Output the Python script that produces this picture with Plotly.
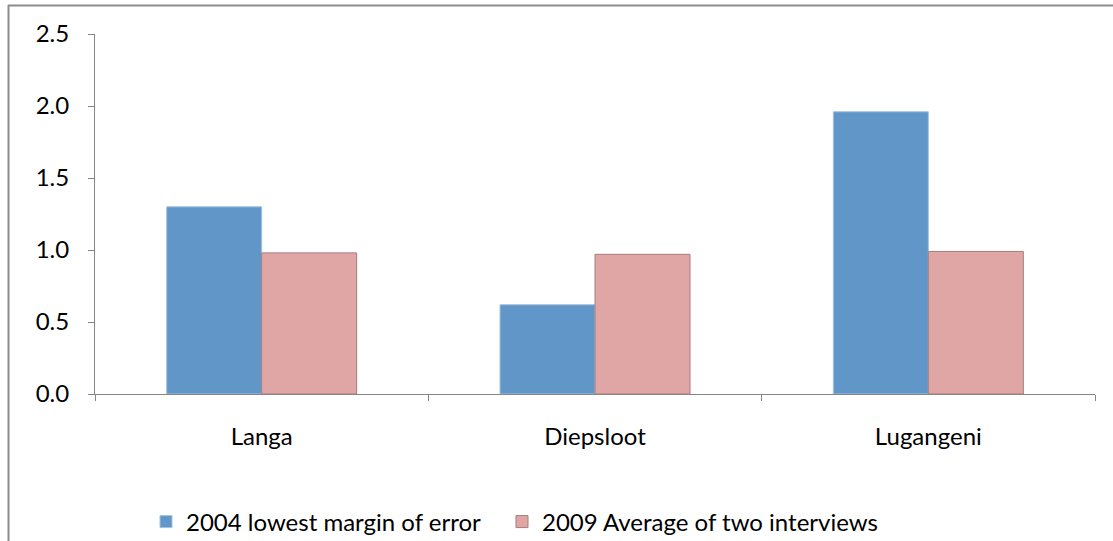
import plotly.graph_objects as go

# Survey sites and the two measurement series
sites = ["Langa", "Diepsloot", "Lugangeni"]
series_2004 = [1.30, 0.62, 1.96]
series_2009 = [0.98, 0.97, 0.99]
name_2004 = "2004 lowest margin of error"
name_2009 = "2009 Average of two interviews"
y_ticks = [0.0, 0.5, 1.0, 1.5, 2.0, 2.5]

W, H = 1113, 541
L, R, T, B = 95, 18, 34, 147
pw, ph = W - L - R, H - T - B

def px_x(p):
    return (p - L) / pw

def px_y(p):
    return (H - B - p) / ph

fig = go.Figure()
fig.add_trace(go.Bar(
    x=sites, y=series_2004, name=name_2004, legend="legend",
    marker=dict(color="#6096C8", line=dict(color="#A4C1E0", width=1)),
))
fig.add_trace(go.Bar(
    x=sites, y=series_2009, name=name_2009, legend="legend2",
    marker=dict(color="#E0A6A5", line=dict(color="#A67C7B", width=1)),
))

axis_grey = "#868686"
text_font = dict(family="Lato, Open Sans, sans-serif", size=24, color="#000000")

def legend_at(px_left):
    return dict(
        orientation="h", x=px_x(px_left), xanchor="left",
        yref="container", y=1 - 522 / H, yanchor="middle",
        font=text_font, itemwidth=30, bgcolor="rgba(0,0,0,0)",
    )

fig.update_layout(
    width=W, height=H,
    margin=dict(l=L, r=R, t=T, b=B, pad=0, autoexpand=False),
    paper_bgcolor="white", plot_bgcolor="white",
    barmode="group", bargap=0.43, bargroupgap=0,
    font=text_font,
    showlegend=True,
    legend=legend_at(146),
    legend2=legend_at(502),
    xaxis=dict(
        showline=True, linecolor=axis_grey, linewidth=1,
        ticks="outside", tickson="boundaries", ticklen=6, tickcolor=axis_grey,
        showgrid=False, zeroline=False, ticklabelstandoff=21,
        automargin=False,
    ),
    yaxis=dict(
        range=[0, 2.5], tickvals=y_ticks, tickformat=".1f",
        showline=True, linecolor=axis_grey, linewidth=1,
        ticks="outside", ticklen=6, tickcolor=axis_grey,
        showgrid=False, zeroline=False, ticklabelstandoff=14,
        automargin=False,
    ),
    shapes=[
        # outer chart frame (left and top edges)
        dict(type="line", xref="paper", yref="paper",
             x0=px_x(8.5), x1=px_x(8.5), y0=px_y(5), y1=px_y(H + 5),
             line=dict(color="#8C8C8C", width=2)),
        dict(type="line", xref="paper", yref="paper",
             x0=px_x(8), x1=px_x(W + 5), y0=px_y(5.5), y1=px_y(5.5),
             line=dict(color="#8C8C8C", width=2)),
    ],
)

fig.write_html("out.html")
